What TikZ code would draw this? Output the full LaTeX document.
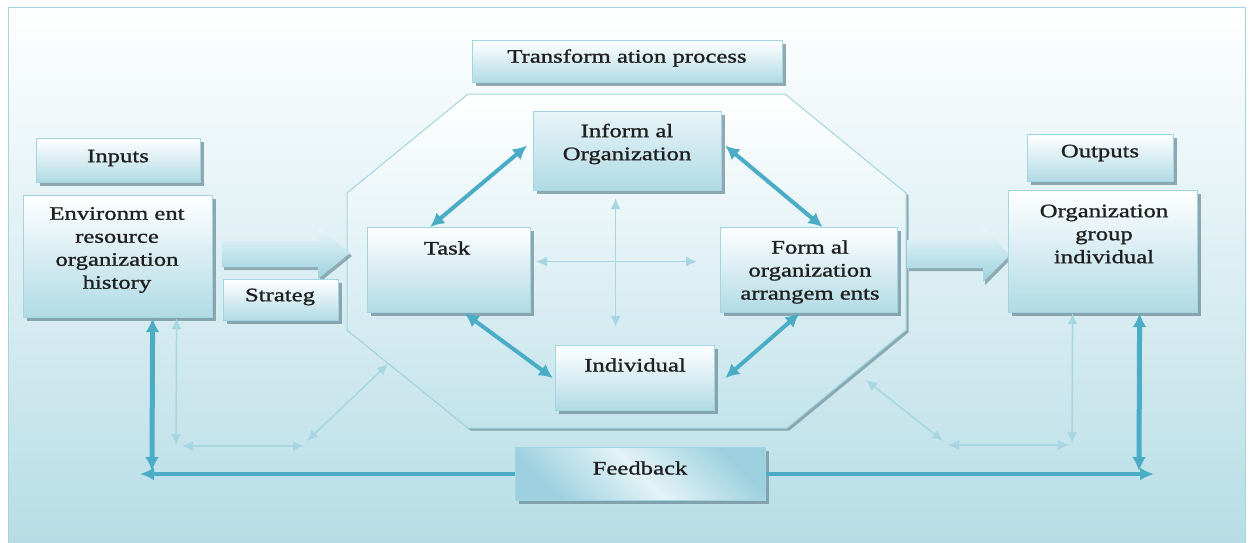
\documentclass[tikz,border=0pt]{standalone}
\usepackage{fontspec}
\setmainfont{Liberation Serif}[FakeStretch=1.3,FakeBold=1.2]
\usetikzlibrary{arrows.meta,shadows,calc}
\definecolor{thickc}{HTML}{4BACC6}
\definecolor{thinc}{HTML}{A6D6E2}
\definecolor{bgbot}{HTML}{B5DCE5}
\definecolor{boxbot}{HTML}{B0DAE5}
\definecolor{boxline}{HTML}{A2D5E1}
\definecolor{shad}{HTML}{6E8E99}
\definecolor{octbot}{HTML}{C3E3EB}
\definecolor{fbdark}{HTML}{9CD0DF}
\definecolor{fblight}{HTML}{E4F3F7}
\begin{document}
\begin{tikzpicture}[x=1pt,y=-1pt,
  box/.style={draw=boxline, line width=1.2pt, top color=white, bottom color=boxbot,
    drop shadow={shadow xshift=3pt,shadow yshift=-3pt,fill=shad,opacity=0.75},
    inner sep=0pt, anchor=north west},
  txt/.style={font=\fontsize{19}{23}\selectfont, align=center, inner sep=0pt, text=black!88},
  thickarr/.style={draw=thickc, line width=4pt, {Latex[length=14pt,width=14pt]}-{Latex[length=14pt,width=14pt]}},
  thinarr/.style={draw=thinc, line width=1.5pt, {Latex[length=11pt,width=10pt]}-{Latex[length=11pt,width=10pt]}},
  fbline/.style={draw=thickc, line width=4pt, -{Latex[length=14pt,width=13pt]}},
  blockarr/.style={top color=white!75!boxbot, bottom color=thickc!55, draw=none,
    drop shadow={shadow xshift=2pt,shadow yshift=-3pt,fill=shad,opacity=0.7}}
]
\useasboundingbox (0,0) rectangle (1250,543);
% background frame
\fill[white] (0,0) rectangle (1250,543);
\draw[draw=boxline, line width=1pt, top color=white, bottom color=bgbot] (8,8) rectangle (1245,560);

% octagon
\draw[draw=boxline, line width=1pt, top color=white, bottom color=octbot,
  drop shadow={shadow xshift=2.5pt,shadow yshift=-2.5pt,fill=shad,opacity=0.7}]
  (468,94) -- (785,94) -- (906,193) -- (906,330) -- (787,428) -- (468,428) -- (347,330) -- (347,193) -- cycle;

% block arrows
\path[blockarr] (222,241) -- (318,241) -- (318,227) -- (350,253) -- (318,279) -- (318,267) -- (222,267) -- cycle;
\path[blockarr] (907,240) -- (983,240) -- (983,228) -- (1010,255) -- (983,282) -- (983,268) -- (907,268) -- cycle;

% boxes
\node[box, minimum width=164pt, minimum height=44pt] (inputs) at (36,138) {};
\node[box, minimum width=189pt, minimum height=122pt] (env) at (23,195) {};
\node[box, minimum width=115pt, minimum height=41pt] (strat) at (223,279) {};
\node[box, minimum width=310pt, minimum height=42pt] (trans) at (472,40) {};
\node[box, minimum width=188pt, minimum height=79pt, top color=white!70!boxbot] (inf) at (533,111) {};
\node[box, minimum width=163pt, minimum height=85pt] (task) at (367,227) {};
\node[box, minimum width=177pt, minimum height=85pt] (formal) at (720,227) {};
\node[box, minimum width=159pt, minimum height=65pt] (ind) at (555,345) {};
\node[box, minimum width=250pt, minimum height=53pt, top color=fbdark, bottom color=fbdark, middle color=fblight, shading angle=-45] (fb) at (515,447) {};
\node[box, minimum width=146pt, minimum height=47pt] (outputs) at (1027,134) {};
\node[box, minimum width=189pt, minimum height=122pt] (org) at (1008,190) {};

% texts
\node[txt] (inputs-t) at (118,158) {Inputs};
\node[txt] (env-t) at (117,250) {Environm ent\\resource\\organization\\history};
\node[txt] (strat-t) at (280,297) {Strateg};
\node[txt] (trans-t) at (627,58) {Transform ation process};
\node[txt] (inf-t) at (627,144) {Inform al\\Organization};
\node[txt] (task-t) at (447,248) {Task};
\node[txt] (formal-t) at (810,272) {Form al\\organization\\arrangem ents};
\node[txt] (ind-t) at (635,365) {Individual};
\node[txt] (fb-t) at (640,468) {Feedback};
\node[txt] (outputs-t) at (1100,153) {Outputs};
\node[txt] (org-t) at (1104,234) {Organization\\group\\individual};

% thick arrows inside octagon
\draw[thickarr] ([xshift=-19pt]task.north) -- ([xshift=-6pt,yshift=5.5pt]inf.west);
\draw[thickarr] ([xshift=3pt,yshift=5.5pt]inf.east) -- ([xshift=13.5pt]formal.north);
\draw[thickarr] ([xshift=15.5pt]task.south) -- ([xshift=-2pt]ind.west);
\draw[thickarr] ([xshift=-9.5pt]formal.south) -- ([xshift=10pt]ind.east);

% thin cross
\draw[thinarr] ([xshift=-12pt,yshift=-7pt]inf.south) -- ([xshift=-19.5pt,yshift=18pt]ind.north);
\draw[thinarr] ([xshift=5pt,yshift=8.5pt]task.east) -- ([xshift=-23pt,yshift=8.5pt]formal.west);

% feedback
\coordinate (fbL) at (140,474);
\coordinate (fbR) at (1154,474);
\draw[fbline] (fb.west |- fbL) -- (fbL);
\draw[fbline] (fb.east |- fbR) -- (fbR);
\coordinate (envV) at (152,471);
\coordinate (orgV) at (1139,471);
\draw[thickarr, line width=5pt] ([xshift=34.5pt]env.south) -- (envV);
\draw[thickarr, line width=5pt] ([xshift=36.5pt]org.south) -- (orgV);

% thin feedback arrows left
\coordinate (lA) at (176,445);
\coordinate (lB) at (182,446);
\coordinate (lC) at (304,446);
\coordinate (lD) at (307,441);
\coordinate (lE) at (388,364);
\draw[thinarr] ([xshift=58.5pt]env.south) -- (lA);
\draw[thinarr] (lB) -- (lC);
\draw[thinarr] (lD) -- (lE);

% thin feedback arrows right
\coordinate (rA) at (1072,443);
\coordinate (rB) at (1069,445);
\coordinate (rC) at (948,445);
\coordinate (rD) at (943,441);
\coordinate (rE) at (866,380);
\draw[thinarr] ([xshift=-30.5pt]org.south) -- (rA);
\draw[thinarr] (rB) -- (rC);
\draw[thinarr] (rD) -- (rE);
\end{tikzpicture}
\end{document}
